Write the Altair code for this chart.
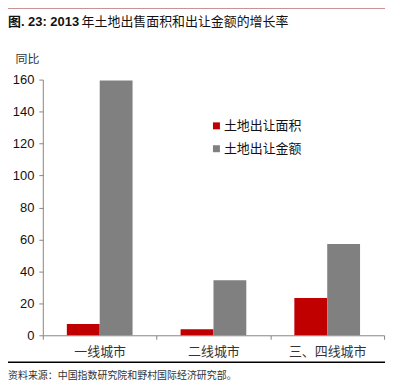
import altair as alt
import pandas as pd

cities = ["一线城市", "二线城市", "三、四线城市"]
series = ["土地出让面积", "土地出让金额"]
area_growth = [7.0, 3.7, 23.4]
amount_growth = [159.5, 34.5, 57.1]
colors = ["#C00000", "#808080"]
y_ticks = [0, 20, 40, 60, 80, 100, 120, 140, 160]

title_bold = "图. 23: 2013"
title_rest = "年土地出售面积和出让金额的增长率"
source_text = "资料来源：中国指数研究院和野村国际经济研究部。"
y_title = "同比"

rows = []
for i, c in enumerate(cities):
    rows.append({"city": c, "series": series[0], "value": area_growth[i]})
    rows.append({"city": c, "series": series[1], "value": amount_growth[i]})
df = pd.DataFrame(rows)

FONT = "Liberation Sans, Arial, Noto Sans CJK SC"

bars = alt.Chart(df).mark_bar(size=33).encode(
    x=alt.X("city:N", sort=cities,
            scale=alt.Scale(paddingInner=0, paddingOuter=0),
            axis=alt.Axis(title=None, labelAngle=0, tickBand="extent",
                          tickSize=4, labelPadding=6, labelFontSize=13,
                          labelColor="#333333", domainColor="#868686",
                          tickColor="#868686", labelFont=FONT)),
    xOffset=alt.XOffset("series:N", sort=series,
                        scale=alt.Scale(paddingInner=0, paddingOuter=0.73)),
    y=alt.Y("value:Q", scale=alt.Scale(domain=[0, 160], nice=False),
            axis=alt.Axis(values=y_ticks, grid=False, tickSize=4,
                          labelPadding=5, labelFontSize=13, labelColor="#111111",
                          domainColor="#868686", tickColor="#868686",
                          labelFont=FONT,
                          title=y_title, titleAngle=0, titleAlign="left",
                          titleBaseline="middle", titleX=-28, titleY=-21,
                          titleFontSize=12, titleFontWeight="normal",
                          titleColor="#333333", titleFont=FONT)),
    color=alt.Color("series:N", sort=series,
                    scale=alt.Scale(domain=series, range=colors),
                    legend=alt.Legend(title=None, orient="none", legendX=168,
                                      legendY=40, symbolType="square",
                                      symbolSize=49, symbolStrokeWidth=0,
                                      labelFontSize=13, labelFont=FONT,
                                      labelColor="#111111", labelOffset=1,
                                      rowPadding=9, padding=0)),
)

def text_layer(txt, x, y, size, weight="normal", color="#111111"):
    return alt.Chart(pd.DataFrame({"t": [txt]})).mark_text(
        align="left", baseline="middle", fontSize=size, fontWeight=weight,
        font=FONT, color=color
    ).encode(x=alt.value(x), y=alt.value(y), text="t:N")

t1 = text_layer(title_bold, -35, -57.5, 13, "bold")
t2 = text_layer(title_rest, 39, -57.5, 13)
src = text_layer(source_text, -35, 298, 10, color="#333333")

top_rule = alt.Chart(pd.DataFrame({"a": [0]})).mark_rule(
    color="#962626", strokeWidth=1.5
).encode(x=alt.value(-35), x2=alt.value(344), y=alt.value(-72.3))
bottom_rule = alt.Chart(pd.DataFrame({"a": [0]})).mark_rule(
    color="#000000", strokeWidth=1.5
).encode(x=alt.value(-35), x2=alt.value(344), y=alt.value(284))

chart = alt.layer(bars, t1, t2, src, top_rule, bottom_rule).properties(
    width=343, height=257,
    autosize=alt.AutoSizeParams(type="none"),
    padding={"left": 35, "top": 71, "right": 15, "bottom": 45},
).configure_view(stroke=None).resolve_scale(x="shared")

chart.save("out.html", embed_options={"renderer": "svg", "actions": False})
